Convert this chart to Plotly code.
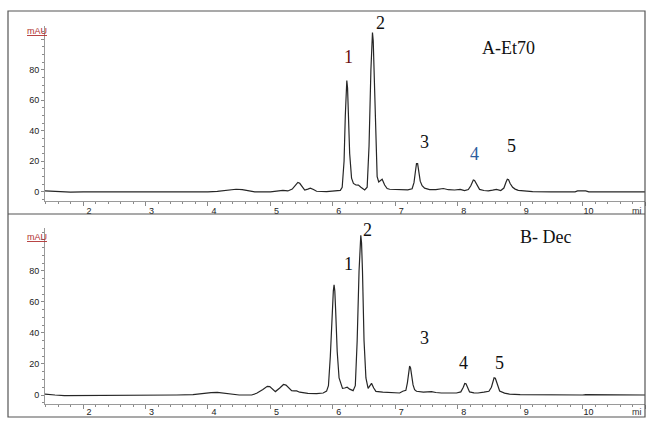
import plotly.graph_objects as go

W, H = 653, 425

# ---- Data (time in min, absorbance in mAU) ----
time_a = [1.39, 1.45, 1.55, 1.65, 1.8, 2.0, 2.5, 3.0, 3.4, 3.6, 3.85, 4.0, 4.15, 4.3, 4.45,
          4.55, 4.65, 4.75, 5.0, 5.1, 5.2, 5.28, 5.35, 5.40, 5.44, 5.47, 5.5, 5.55, 5.6, 5.64,
          5.69, 5.74, 5.9, 6.05, 6.12, 6.15, 6.18, 6.20, 6.212, 6.224, 6.236, 6.25, 6.27,
          6.30, 6.33, 6.37, 6.41, 6.45, 6.51, 6.55, 6.58, 6.61, 6.623, 6.635, 6.647, 6.66,
          6.69, 6.71, 6.735, 6.765, 6.79, 6.83, 6.87, 6.91, 7.07, 7.2, 7.27, 7.3, 7.325,
          7.34, 7.358, 7.375, 7.40, 7.43, 7.47, 7.55, 7.65, 7.77, 7.85, 7.95, 8.04, 8.11,
          8.17, 8.21, 8.25, 8.27, 8.30, 8.35, 8.42, 8.49, 8.56, 8.62, 8.69, 8.74, 8.775,
          8.795, 8.815, 8.84, 8.88, 8.92, 8.97, 9.05, 9.2, 9.5, 9.88, 9.92, 10.05, 10.1, 11.0]
mau_a = [0.6, 0.5, 0.0, -0.3, -0.2, 0.0, 0.0, 0.0, -0.2, -0.4, -0.3, 0.0, 0.3, 1.0, 1.7,
         1.4, 0.5, 0.0, 0.0, 0.3, 1.0, 0.6, 1.8, 4.2, 6.2, 5.6, 3.8, 1.2, 1.8, 2.4,
         1.5, 0.4, 0.2, 0.5, 1.0, 3.0, 20.0, 50.0, 68.0, 73.0, 68.0, 52.0, 25.0,
         9.0, 5.5, 4.5, 4.4, 3.0, 1.3, 3.0, 30.0, 80.0, 99.0, 104.5, 99.0, 82.0,
         30.0, 10.0, 6.5, 7.5, 8.3, 4.5, 2.2, 1.7, 1.4, 1.3, 2.0, 6.0, 14.0,
         18.5, 18.5, 14.0, 7.0, 4.0, 2.4, 1.5, 1.5, 2.2, 1.4, 1.2, 1.6, 0.8,
         1.5, 4.0, 7.8, 7.4, 5.0, 1.6, 0.9, 0.7, 1.1, 1.6, 0.9, 2.5, 6.5,
         8.3, 8.0, 5.5, 3.0, 1.8, 1.0, 0.6, 0.2, 0.0, 0.0, 0.6, 0.6, 0.0, 0.0]

time_b = [1.39, 1.45, 1.55, 1.7, 2.0, 2.5, 3.0, 3.5, 3.76, 3.9, 4.05, 4.15, 4.25, 4.35, 4.5,
          4.7, 4.78, 4.88, 4.95, 4.99, 5.03, 5.08, 5.15, 5.21, 5.25, 5.29, 5.34, 5.38, 5.42,
          5.47, 5.525, 5.6, 5.74, 5.845, 5.90, 5.93, 5.96, 5.99, 6.008, 6.02, 6.032, 6.045,
          6.07, 6.10, 6.155, 6.19, 6.23, 6.27, 6.325, 6.36, 6.39, 6.42, 6.436, 6.448, 6.46,
          6.475, 6.50, 6.53, 6.565, 6.59, 6.62, 6.655, 6.69, 6.8, 7.07, 7.12, 7.17, 7.195,
          7.215, 7.23, 7.245, 7.26, 7.285, 7.31, 7.34, 7.45, 7.58, 7.65, 7.74, 7.98, 8.05,
          8.09, 8.113, 8.133, 8.16, 8.19, 8.26, 8.325, 8.42, 8.5, 8.54, 8.57, 8.583, 8.603,
          8.62, 8.65, 8.672, 8.75, 8.83, 9.0, 9.5, 10.0, 10.05, 10.3, 10.6, 11.0]
mau_b = [0.6, 0.5, 0.0, -0.4, -0.4, -0.2, 0.0, 0.0, 0.2, 1.0, 1.6, 1.7, 1.2, 0.3, 0.0,
         0.0, 1.1, 3.5, 5.6, 5.4, 3.8, 2.2, 4.5, 6.8, 6.4, 4.5, 2.8, 2.6, 2.6,
         1.8, 1.3, 1.0, 0.9, 1.3, 2.5, 6.0, 25.0, 55.0, 67.0, 71.0, 67.0, 55.0,
         28.0, 11.0, 4.3, 4.5, 5.0, 3.8, 2.8, 6.0, 35.0, 80.0, 98.0, 103.0, 98.0,
         80.0, 35.0, 11.0, 4.3, 6.0, 7.5, 4.5, 2.3, 1.9, 1.3, 2.4, 3.0, 8.0,
         15.0, 18.6, 17.5, 14.0, 6.5, 3.5, 2.4, 1.9, 2.2, 1.6, 1.3, 1.3, 2.0,
         5.0, 7.4, 7.2, 5.0, 2.0, 1.4, 1.3, 1.8, 2.4, 5.0, 9.5, 11.1, 10.8,
         9.0, 4.5, 2.6, 1.2, 0.6, 0.2, 0.0, 0.0, 0.3, 0.3, 0.1, 0.0]

x_tick_values = [2, 3, 4, 5, 6, 7, 8, 9, 10, 11]
x_tick_labels = ["2", "3", "4", "5", "6", "7", "8", "9", "10", ""]
y_tick_values = [0, 20, 40, 60, 80, 100]
y_tick_labels = ["0", "20", "40", "60", "80", ""]
peak_names = ["1", "2", "3", "4", "5"]
panel_titles = ["A-Et70", "B- Dec"]


def px(x):
    return x / W


def py(y):
    return 1 - y / H


line_style = dict(color="#262626", width=1.2)
fig = go.Figure()
fig.add_trace(go.Scatter(x=time_a, y=mau_a, mode="lines", line=line_style,
                         xaxis="x", yaxis="y", showlegend=False, hoverinfo="skip"))
fig.add_trace(go.Scatter(x=time_b, y=mau_b, mode="lines", line=line_style,
                         xaxis="x2", yaxis="y2", showlegend=False, hoverinfo="skip"))

tick_font = dict(family="Liberation Sans, Arial", size=9, color="#222222")
x_dom = [px(45), px(645)]

xcommon = dict(
    domain=x_dom, range=[1.39, 11.0], tickmode="array", tickvals=x_tick_values,
    ticktext=x_tick_labels, ticks="outside", ticklen=4, tickcolor="#8a8a8a", tickwidth=1,
    showline=True, linecolor="#9a9a9a", linewidth=1, showgrid=False, zeroline=False,
    tickfont=tick_font, ticklabelshift=6,
    minor=dict(tickmode="linear", tick0=0, dtick=0.2, ticks="outside", ticklen=2,
               tickcolor="#8a8a8a", showgrid=False),
    fixedrange=True,
)
ycommon = dict(
    tickmode="array", tickvals=y_tick_values, ticktext=y_tick_labels, ticks="outside",
    ticklen=3, tickcolor="#8a8a8a", tickwidth=1, showline=True, linecolor="#9a9a9a",
    linewidth=1, showgrid=False, zeroline=False, tickfont=tick_font, ticklabelstandoff=0,
    minor=dict(tickmode="linear", tick0=0, dtick=5, ticks="outside", ticklen=2,
               tickcolor="#8a8a8a", showgrid=False),
    fixedrange=True,
)

fig.update_layout(
    width=W, height=H, margin=dict(l=0, r=0, t=0, b=0),
    paper_bgcolor="white", plot_bgcolor="white",
    xaxis=dict(xcommon, anchor="y", ticklabelstandoff=-3),
    yaxis=dict(ycommon, domain=[py(201), py(25.6)], range=[-6, 109], anchor="x"),
    xaxis2=dict(xcommon, anchor="y2", ticklabelstandoff=-5),
    yaxis2=dict(ycommon, domain=[py(404), py(228)], range=[-5.8, 107.7], anchor="x2"),
)

# frame and divider
fig.add_shape(type="rect", xref="paper", yref="paper", x0=px(8), y0=py(417), x1=px(645),
              y1=py(11), line=dict(color="#555555", width=1.2))
fig.add_shape(type="line", xref="paper", yref="paper", x0=px(8), y0=py(214), x1=px(645),
              y1=py(214), line=dict(color="#555555", width=1.2))

annos = []
serif = "Liberation Serif, Times New Roman, serif"


def lab(text, x, y, color="#111111", size=18):
    annos.append(dict(text=text, x=px(x), y=py(y), xref="paper", yref="paper",
                      showarrow=False, xanchor="center", yanchor="middle",
                      font=dict(family=serif, size=size, color=color)))


# panel A labels
top_pos = [(348, 57), (380, 23), (424, 142), (474, 154), (511, 146)]
top_col = ["#6b1010", "#111111", "#111111", "#2b5d9e", "#111111"]
for name, (x, y), c in zip(peak_names, top_pos, top_col):
    lab(name, x, y, c)
lab(panel_titles[0], 508, 48, size=18)

# panel B labels
bot_pos = [(348, 264), (367, 230), (424, 338), (463, 363), (499, 363)]
for name, (x, y) in zip(peak_names, bot_pos):
    lab(name, x, y)
lab(panel_titles[1], 545, 237, size=18)

# unit labels
for yy in (31, 237):
    annos.append(dict(text="<u>mAU</u>", x=px(37), y=py(yy), xref="paper", yref="paper",
                      showarrow=False, xanchor="center", yanchor="middle",
                      font=dict(family="Liberation Sans, Arial", size=9, color="#b03030")))
for yy in (211, 412):
    annos.append(dict(text="mi", x=px(637), y=py(yy), xref="paper", yref="paper",
                      showarrow=False, xanchor="center", yanchor="middle",
                      font=dict(family="Liberation Sans, Arial", size=9, color="#333333")))

fig.update_layout(annotations=annos)
fig.write_html("out.html", config={"displayModeBar": False},
               post_script="document.body.style.margin='0';document.body.style.padding='0';")
